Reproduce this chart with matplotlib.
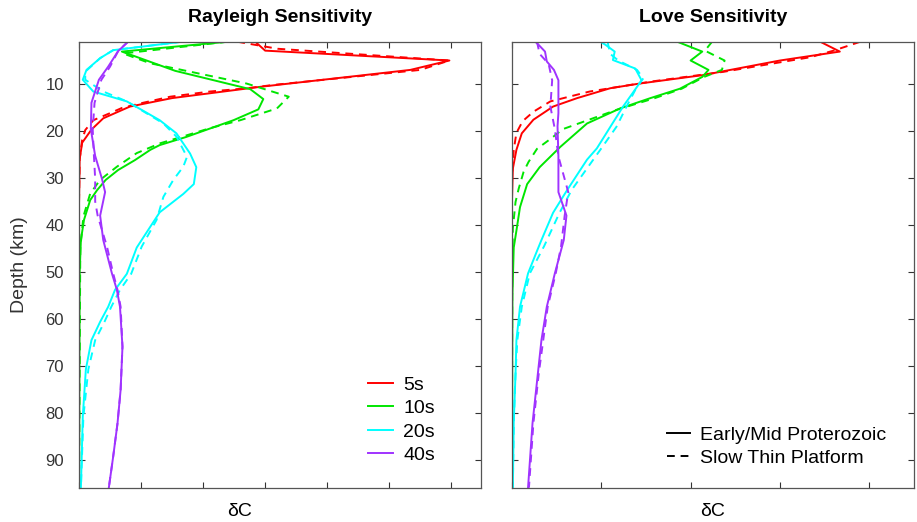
import numpy as np
import matplotlib
matplotlib.use('Agg')
import matplotlib.pyplot as plt
from matplotlib.lines import Line2D

plt.rcParams['font.family'] = ['Liberation Sans', 'DejaVu Sans']

periods = ['5s', '10s', '20s', '40s']
colors = ['#ff0000', '#00e600', '#00ffff', '#a033ff']
models = ['Early/Mid Proterozoic', 'Slow Thin Platform']
depth_ticks = [10, 20, 30, 40, 50, 60, 70, 80, 90]

# ---- Rayleigh, solid = Early/Mid Proterozoic, dashed = Slow Thin Platform
ray_5s_d_a = [1, 2.9, 5.0, 7.0, 10.6, 13.0, 14.8, 17.3, 19.7, 22.5, 26, 35, 95.9]
ray_5s_v_a = [2.84, 3.0, 5.97, 5.34, 2.92, 1.5, 0.82, 0.39, 0.2, 0.05, 0.01, 0.0, 0.0]
ray_5s_d_b = [1, 2.5, 5.0, 7.0, 10.2, 10.9, 11.6, 12.7, 14.0, 15.1, 16.2, 17.7, 19.8, 21.9, 26, 35, 95.9]
ray_5s_v_b = [2.55, 3.2, 5.97, 5.5, 3.13, 2.71, 2.11, 1.47, 1.03, 0.69, 0.5, 0.23, 0.1, 0.05, 0.01, 0.0, 0.0]

ray_10s_d_a = [1, 3.1, 7.2, 11.1, 13.2, 15.4, 17.7, 21.3, 23.0, 24.0, 26.2, 28.3, 30.4,
               32.6, 34.7, 38.9, 43.2, 50, 95.9]
ray_10s_v_a = [2.4, 0.69, 1.55, 2.76, 2.97, 2.89, 2.49, 1.72, 1.3, 1.15, 0.9, 0.63, 0.43,
               0.29, 0.18, 0.08, 0.03, 0.01, 0.0]
ray_10s_d_b = [1, 3.5, 5.6, 9.9, 12.7, 15.2, 17.7, 19.4, 20.9, 22.6, 24.7, 27.6, 30.4,
               33.3, 38.2, 45, 95.9]
ray_10s_v_b = [2.4, 0.71, 1.15, 2.7, 3.38, 3.19, 2.6, 2.11, 1.74, 1.31, 0.93, 0.61, 0.34,
               0.18, 0.07, 0.02, 0.0]

ray_20s_d_a = [1, 2.8, 4.5, 7.0, 9.1, 11.6, 13.7, 17.7, 20.5, 24.8, 27.7, 31.3, 33.4, 37.3,
               44.8, 50.4, 53.8, 57.4, 60.6, 64.5, 70.7, 80.8, 95.9]
ray_20s_v_a = [1.66, 0.55, 0.34, 0.12, 0.06, 0.23, 0.77, 1.3, 1.57, 1.79, 1.89, 1.85, 1.68, 1.3,
               0.93, 0.77, 0.58, 0.47, 0.34, 0.2, 0.11, 0.06, 0.03]
ray_20s_d_b = [1, 2.8, 4.5, 7.4, 9.1, 11.6, 13.7, 18.4, 21.2, 25.5, 27.6, 30.4, 34.0, 38.9,
               44.6, 50.4, 53.8, 57.4, 60.6, 64.5, 70.7, 80.8, 95.9]
ray_20s_v_b = [1.66, 0.55, 0.34, 0.1, 0.1, 0.39, 0.77, 1.36, 1.57, 1.74, 1.68, 1.52, 1.36, 1.25,
               1.01, 0.84, 0.66, 0.52, 0.41, 0.26, 0.15, 0.07, 0.03]

ray_40s_d_a = [1, 3.0, 6.3, 9.1, 14.0, 19.6, 25.3, 30.2, 33.0, 38.0, 43.2, 50.3, 53.8, 57.4,
               65.9, 75.1, 82.2, 89.3, 95.9]
ray_40s_v_a = [0.79, 0.63, 0.47, 0.32, 0.2, 0.19, 0.26, 0.37, 0.42, 0.34, 0.39, 0.53, 0.61, 0.66,
               0.7, 0.67, 0.62, 0.55, 0.48]
ray_40s_d_b = [1, 3.0, 6.3, 9.1, 14.0, 19.6, 25.3, 30.2, 35.0, 38.0, 44.6, 50.3, 53.8, 57.4,
               65.9, 75.1, 82.2, 89.3, 95.9]
ray_40s_v_b = [0.79, 0.63, 0.5, 0.36, 0.25, 0.22, 0.24, 0.26, 0.26, 0.3, 0.45, 0.55, 0.62, 0.67,
               0.7, 0.67, 0.62, 0.55, 0.48]

# ---- Love
love_5s_d_a = [1, 3.1, 5.0, 8.1, 9.9, 10.9, 13.0, 14.8, 17.6, 20.5, 24.0, 28, 35, 95.9]
love_5s_v_a = [3.45, 3.67, 3.0, 2.14, 1.43, 1.1, 0.73, 0.46, 0.24, 0.11, 0.05, 0.01, 0.0, 0.0]
love_5s_d_b = [1, 2.9, 4.3, 7.4, 9.5, 11.6, 13.7, 15.9, 17.9, 20.4, 24, 30, 95.9]
love_5s_v_b = [3.9, 3.6, 3.34, 2.37, 1.55, 0.87, 0.43, 0.24, 0.12, 0.05, 0.02, 0.0, 0.0]

love_10s_d_a = [1, 3.1, 5.0, 7.0, 8.5, 11.0, 13.0, 15.2, 18.4, 23.4, 27.7, 31.3, 36.2, 41.2,
                44.8, 55, 95.9]
love_10s_v_a = [1.85, 2.13, 2.0, 2.2, 2.13, 1.88, 1.55, 1.21, 0.84, 0.54, 0.31, 0.17, 0.09, 0.05,
                0.02, 0.005, 0.0]
love_10s_d_b = [1, 2.9, 5.0, 7.0, 8.5, 11.0, 13.0, 15.5, 19.6, 21.7, 23.8, 26.6, 28.7, 32.3,
                35.1, 40.7, 50, 95.9]
love_10s_v_b = [2.24, 2.16, 2.38, 2.35, 2.15, 1.9, 1.6, 1.17, 0.57, 0.43, 0.28, 0.185, 0.13, 0.075,
                0.04, 0.01, 0.003, 0.0]

love_20s_d_a = [1, 1.7, 3.1, 4.9, 6.7, 9.2, 10.6, 14.9, 23.7, 26.1, 32.5, 37.4, 43.2, 46.0,
                50.3, 57.4, 64.5, 71.6, 82.0, 95.9]
love_20s_v_a = [0.99, 1.05, 1.15, 1.13, 1.38, 1.45, 1.4, 1.24, 0.95, 0.84, 0.62, 0.46, 0.33, 0.27,
                0.18, 0.09, 0.05, 0.04, 0.02, 0.01]
love_20s_d_b = [1, 3.6, 5.0, 7.0, 8.8, 10.9, 14.9, 19.1, 23.7, 26.9, 32.5, 37.5, 44.5, 50.3,
                57.4, 64.5, 71.6, 82.0, 95.9]
love_20s_v_b = [1.07, 1.1, 1.19, 1.4, 1.47, 1.39, 1.28, 1.17, 1.0, 0.88, 0.67, 0.53, 0.36, 0.2,
                0.11, 0.06, 0.04, 0.02, 0.01]

love_40s_d_a = [1, 1.5, 3.1, 5.2, 7.0, 9.2, 16.2, 19.0, 25.4, 33.0, 38.0, 43.2, 50.3, 57.4,
                64.5, 71.6, 82.2, 95.9]
love_40s_v_a = [0.26, 0.29, 0.37, 0.39, 0.47, 0.52, 0.52, 0.51, 0.52, 0.52, 0.61, 0.58, 0.48, 0.39,
                0.33, 0.29, 0.23, 0.18]
love_40s_d_b = [1, 3.6, 5.7, 9.2, 14.8, 19.6, 25.4, 33.0, 38.0, 44.5, 50.3, 57.4, 64.5, 71.6,
                82.2, 95.9]
love_40s_v_b = [0.28, 0.31, 0.41, 0.45, 0.43, 0.48, 0.52, 0.63, 0.59, 0.55, 0.49, 0.4, 0.35, 0.3,
                0.24, 0.19]

rayleigh = [(ray_5s_d_a, ray_5s_v_a, ray_5s_d_b, ray_5s_v_b),
            (ray_10s_d_a, ray_10s_v_a, ray_10s_d_b, ray_10s_v_b),
            (ray_20s_d_a, ray_20s_v_a, ray_20s_d_b, ray_20s_v_b),
            (ray_40s_d_a, ray_40s_v_a, ray_40s_d_b, ray_40s_v_b)]
love = [(love_5s_d_a, love_5s_v_a, love_5s_d_b, love_5s_v_b),
        (love_10s_d_a, love_10s_v_a, love_10s_d_b, love_10s_v_b),
        (love_20s_d_a, love_20s_v_a, love_20s_d_b, love_20s_v_b),
        (love_40s_d_a, love_40s_v_a, love_40s_d_b, love_40s_v_b)]

fig = plt.figure(figsize=(9.17, 5.22), dpi=100)
ax1 = fig.add_axes([0.0862, 0.0657, 0.4384, 0.8544])
ax2 = fig.add_axes([0.5583, 0.0657, 0.4384, 0.8544])

lw = 1.4
for ax, data, xmax, title in [(ax1, rayleigh, 6.48, 'Rayleigh Sensitivity'),
                              (ax2, love, 4.5, 'Love Sensitivity')]:
    for (da, va, db, vb), c, p in zip(data, colors, periods):
        ax.plot(va, da, color=c, lw=lw, label=p)
        ax.plot(vb, db, color=c, lw=lw, dashes=(4, 3))
    ax.set_xlim(0, xmax)
    ax.set_ylim(95.9, 1)
    ax.set_xticks(np.arange(0, xmax, 1.0))
    ax.set_xticklabels([])
    ax.set_yticks(depth_ticks)
    ax.tick_params(direction='in', length=4, width=0.8, color='#333333',
                   top=True, right=True, labelsize=12, labelcolor='#333333')
    ax.tick_params(axis='y', pad=11)
    for s in ax.spines.values():
        s.set_color('#555555')
        s.set_linewidth(0.9)
    ax.set_title(title, fontsize=14, fontweight='bold', pad=14)
    ax.set_xlabel('δC', fontsize=14)

ax2.set_yticklabels([])
ax1.set_ylabel('Depth (km)', fontsize=14, color='#333333')
ax1.yaxis.set_label_coords(-0.128, 0.5)
ax1.xaxis.set_label_coords(0.40, -0.035)
ax2.xaxis.set_label_coords(0.50, -0.035)
ax1.xaxis.label.set_verticalalignment('top')
ax2.xaxis.label.set_verticalalignment('top')

ax1.legend(loc='upper left', bbox_to_anchor=(0.719, 0.25), frameon=False,
           fontsize=14, handlelength=1.3, handletextpad=0.5, labelspacing=0.3,
           borderpad=0, borderaxespad=0)

proxies = [Line2D([], [], color='black', lw=lw),
           Line2D([], [], color='black', lw=lw, dashes=(4, 3))]
ax2.legend(proxies, models, loc='upper left', bbox_to_anchor=(0.386, 0.138), frameon=False,
           fontsize=14, handlelength=1.2, handletextpad=0.5, labelspacing=0.3,
           borderpad=0, borderaxespad=0)

fig.savefig('out.png', dpi=100)
